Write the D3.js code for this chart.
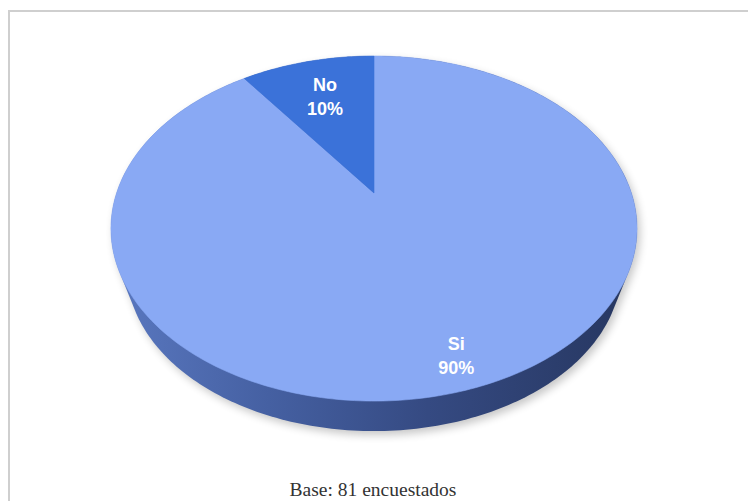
<!DOCTYPE html>
<html>
<head>
<meta charset="utf-8">
<script src="https://cdn.jsdelivr.net/npm/d3@7/dist/d3.min.js"></script>
<style>
  html, body { margin: 0; padding: 0; background: #ffffff; }
  svg { display: block; }
</style>
</head>
<body>
<svg id="chart" width="748" height="501"></svg>
<script>
// Survey answers
const categories = ["Si", "No"];
const values = [90, 10];
const caption = "Base: 81 encuestados";

const topColors = { "Si": "#89a9f4", "No": "#3b72d9" };
const labelRadius = { "Si": 0.86, "No": 0.70 };

const W = 748, H = 501;
const svg = d3.select("#chart");

// Perspective model of a tilted disc: far edge compressed, near edge enlarged.
const cx = 374, cy = 193;      // projected centre of the top face
const ax = 257.4, ay = 165.2;  // horizontal / vertical scale
const persp = 0.206;           // perspective strength
// The bottom face sits farther from the eye: slightly smaller and lower.
const bottomScale = 0.94, bottomShift = 42.5;

function project(theta, r, bottom) {
  const X = r * Math.sin(theta), Z = r * Math.cos(theta);
  const w = 1 + persp * Z;
  const s = bottom ? bottomScale : 1;
  return [cx + s * ax * X / w, cy - s * (ay * Z) / w + (bottom ? bottomShift : 0)];
}

const defs = svg.append("defs");
const sideGrad = defs.append("linearGradient")
  .attr("id", "sideGrad").attr("gradientUnits", "userSpaceOnUse")
  .attr("x1", 110).attr("y1", 0).attr("x2", 640).attr("y2", 0);
[[0, "#5a78c0"], [0.3, "#4560a2"], [0.6, "#354a82"], [1, "#26365f"]]
  .forEach(([o, c]) => sideGrad.append("stop").attr("offset", o).attr("stop-color", c));

const blur = defs.append("filter").attr("id", "soft")
  .attr("x", "-10%").attr("y", "-10%").attr("width", "120%").attr("height", "130%");
blur.append("feGaussianBlur").attr("stdDeviation", 4);

// Frame
svg.append("rect")
  .attr("x", 9).attr("y", 11).attr("width", 780).attr("height", 540)
  .attr("fill", "none").attr("stroke", "#cfcfcf").attr("stroke-width", 2);

// Outline of the whole solid = hull of top and bottom rims
const rim = d3.range(0, 360, 1).map(d => d * Math.PI / 180);
const hullPts = d3.polygonHull(
  rim.map(t => project(t, 1, false)).concat(rim.map(t => project(t, 1, true)))
);
const closed = d3.line().curve(d3.curveLinearClosed);

svg.append("path")
  .attr("d", closed(hullPts.map(([x, y]) => [x + 3, y + 4])))
  .attr("fill", "#000").attr("opacity", 0.22)
  .attr("filter", "url(#soft)");

svg.append("path")
  .attr("d", closed(hullPts))
  .attr("fill", "url(#sideGrad)");

// Top face slices
const pie = d3.pie().sort(null).value(d => d.value).startAngle(0).endAngle(2 * Math.PI);
const arcs = pie(categories.map((c, i) => ({ name: c, value: values[i] })));

const total = d3.sum(values);
arcs.forEach(a => {
  const n = Math.max(8, Math.ceil((a.endAngle - a.startAngle) * 180 / Math.PI));
  const ts = d3.range(n + 1).map(i => a.startAngle + (a.endAngle - a.startAngle) * i / n);
  const pts = [project(0, 0, false)].concat(ts.map(t => project(t, 1, false)));
  svg.append("path")
    .attr("d", closed(pts))
    .attr("fill", topColors[a.data.name])
    .attr("stroke", topColors[a.data.name])
    .attr("stroke-width", 0.6);
});

// Slice labels
arcs.forEach(a => {
  const mid = (a.startAngle + a.endAngle) / 2;
  const [lx, ly] = project(mid, labelRadius[a.data.name], false);
  const t = svg.append("text")
    .attr("text-anchor", "middle")
    .attr("font-family", "'Liberation Sans', Arial, sans-serif")
    .attr("font-weight", "bold")
    .attr("font-size", 18)
    .attr("fill", "#ffffff");
  t.append("tspan").attr("x", lx).attr("y", ly - 5).text(a.data.name);
  t.append("tspan").attr("x", lx).attr("y", ly + 18.5)
    .text(d3.format(".0%")(a.data.value / total));
});

// Caption
svg.append("text")
  .attr("x", 373).attr("y", 496)
  .attr("text-anchor", "middle")
  .attr("font-family", "'Liberation Serif', 'Times New Roman', serif")
  .attr("font-size", 19.5)
  .attr("fill", "#333333")
  .text(caption);
</script>
</body>
</html>
